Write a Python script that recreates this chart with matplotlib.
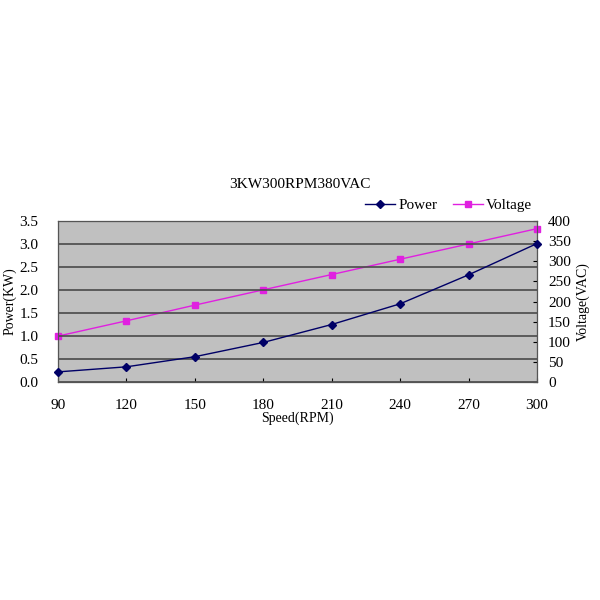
import matplotlib.pyplot as plt

# data
speed = [90, 120, 150, 180, 210, 240, 270, 300]
power_kw = [0.22, 0.33, 0.55, 0.86, 1.25, 1.70, 2.33, 3.01]
voltage_vac = [114, 152, 191, 229, 267, 305, 343, 381]

power_ticks = [0.0, 0.5, 1.0, 1.5, 2.0, 2.5, 3.0, 3.5]
voltage_ticks = [0, 50, 100, 150, 200, 250, 300, 350, 400]

plt.rcParams['font.family'] = ['Liberation Serif', 'DejaVu Serif']

fig = plt.figure(figsize=(6, 6), dpi=100)
ax = fig.add_axes([58 / 600, 1 - 382 / 600, 479 / 600, 161 / 600])

ax.set_xlim(90, 300)
ax.set_ylim(0, 3.5)
ax.set_xticks(speed)
ax.set_yticks(power_ticks)
ax.set_yticklabels([f"{v:.1f}" for v in power_ticks])
ax.tick_params(axis='x', direction='in', length=3, pad=12, labelsize=11)
ax.tick_params(axis='y', length=0, pad=14, labelsize=11)
for s in ax.spines.values():
    s.set_color('#555555')

l1, = ax.plot(speed, power_kw, color='#000066', linewidth=1.0,
              marker='D', markersize=4, label='Power', zorder=4)
ax.set_xlabel('Speed(RPM)', fontsize=10, labelpad=0)
ax.set_ylabel('Power(KW)', fontsize=10, labelpad=2)

# voltage on a second y axis, drawn behind the power axes
ax2 = ax.twinx()
ax2.set_ylim(0, 400)
ax2.set_yticks(voltage_ticks)
ax2.tick_params(axis='y', direction='in', length=3, pad=8, labelsize=11)
l2, = ax2.plot(speed, voltage_vac, color='#e020e0', linewidth=1.0,
               marker='s', markersize=5, label='Voltage', zorder=3)
ax2.set_ylabel('Voltage(VAC)', fontsize=10, labelpad=4)
for l in (l1, l2):
    l.set_clip_on(False)
ax.set_zorder(ax2.get_zorder() + 1)
ax.patch.set_visible(False)
ax2.patch.set_visible(True)
ax2.patch.set_facecolor('#c0c0c0')
ax.grid(axis='y', color='#4a4a4a', linewidth=1.2)
ax.set_axisbelow(True)

fig.text(300 / 600, 1 - 185 / 600, '3KW300RPM380VAC', ha='center',
         va='center', fontsize=11)
fig.legend(handles=[l1, l2], loc='center right',
           bbox_to_anchor=(540 / 600, 1 - 205 / 600), ncol=2, frameon=False,
           fontsize=11, handlelength=2.0, columnspacing=1.0,
           handletextpad=0.2, borderpad=0)

fig.savefig('out.png', dpi=100)
